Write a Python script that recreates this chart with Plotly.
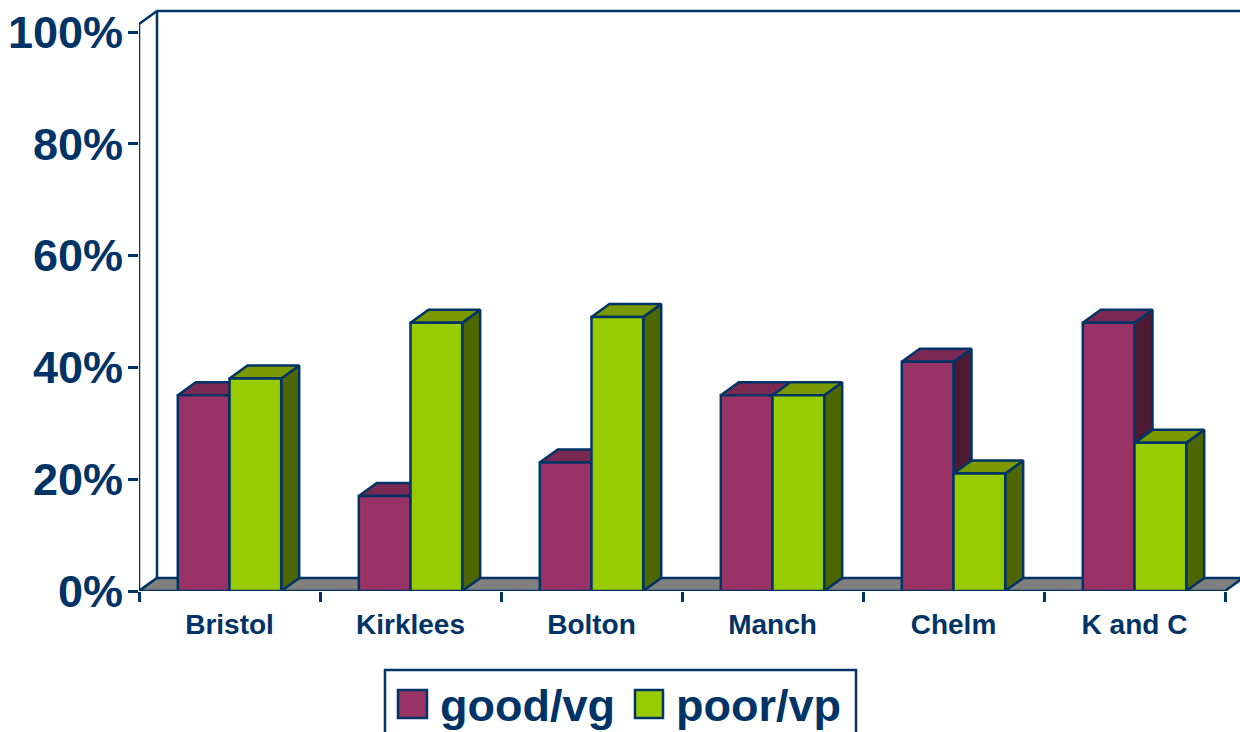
import plotly.graph_objects as go

categories = ["Bristol", "Kirklees", "Bolton", "Manch", "Chelm", "K and C"]
good_vg = [35, 17, 23, 35, 41, 48]
poor_vp = [38, 48, 49, 35, 21, 26.5]
y_ticks = [0, 20, 40, 60, 80, 100]
y_tick_labels = ["0%", "20%", "40%", "60%", "80%", "100%"]

W, H = 1240, 732
NAVY = "#003366"
FONT = "Liberation Sans, Arial, sans-serif"
LW = 2.5
PX_X = 181.0            # pixels per category
PX_Y = 5.59             # pixels per percent
X0_PX, Y0_PX = 139, 591
X_MAX = (W - X0_PX) / PX_X
Y_MAX = Y0_PX / PX_Y
DX = 18 / PX_X          # depth of the 3-D effect
DY = 13 / PX_Y
BAR_W = 51.7 / PX_X
WALL_TOP = (Y0_PX - 24) / PX_Y
centres = [i + 0.5 for i in range(len(categories))]


def px(v):
    return v / W


def py(v):
    return (H - v) / H


def poly(trace_x, trace_y, fill, name):
    return go.Scatter(x=trace_x, y=trace_y, mode="lines", fill="toself", fillcolor=fill,
                      line=dict(color=NAVY, width=LW), name=name, showlegend=False,
                      hoverinfo="skip", cliponaxis=False, xaxis="x", yaxis="y")


def faces(values, left, top_col, side_col, name):
    tx, ty, sx, sy = [], [], [], []
    for c, v in zip(centres, values):
        x0 = c + left
        x1 = x0 + BAR_W
        tx += [x0, x0 + DX, x1 + DX, x1, x0, None]
        ty += [v, v + DY, v + DY, v, v, None]
        sx += [x1, x1 + DX, x1 + DX, x1, x1, None]
        sy += [0, DY, v + DY, v, 0, None]
    return [poly(sx, sy, side_col, name + " side"), poly(tx, ty, top_col, name + " top")]


fig = go.Figure()
n = len(categories)
fig.add_trace(poly([0, DX, DX, 0, 0], [0, DY, WALL_TOP + DY, WALL_TOP, 0], "#FFFFFF", "side wall"))
fig.add_trace(go.Scatter(x=[DX, X_MAX + DX], y=[WALL_TOP + DY, WALL_TOP + DY], mode="lines",
                         line=dict(color=NAVY, width=LW), showlegend=False, hoverinfo="skip",
                         cliponaxis=True, xaxis="x", yaxis="y"))
fig.add_trace(poly([0, DX, n + DX, n, 0], [0, DY, DY, 0, 0], "#808080", "floor"))

for t in faces(good_vg, -BAR_W, "#7A2952", "#4D1A33", "good/vg"):
    fig.add_trace(t)
for t in faces(poor_vp, 0, "#7A9900", "#4D6600", "poor/vp"):
    fig.add_trace(t)

fig.add_trace(go.Bar(x=centres, y=good_vg, width=BAR_W, offset=-BAR_W, name="good/vg",
                     marker=dict(color="#993366", line=dict(color=NAVY, width=LW)),
                     cliponaxis=False, xaxis="x2", yaxis="y2", showlegend=False))
fig.add_trace(go.Bar(x=centres, y=poor_vp, width=BAR_W, offset=0, name="poor/vp",
                     marker=dict(color="#99CC00", line=dict(color=NAVY, width=LW)),
                     cliponaxis=False, xaxis="x2", yaxis="y2", showlegend=False))

x_dom = [X0_PX / W, 1]
y_dom = [(H - Y0_PX) / H, 1]
fig.update_layout(
    width=W, height=H, margin=dict(l=0, r=0, t=0, b=0, pad=0, autoexpand=False),
    paper_bgcolor="white", plot_bgcolor="white", showlegend=False,
    font=dict(family=FONT, color=NAVY),
    xaxis=dict(domain=x_dom, range=[0, X_MAX], tickvals=centres, ticktext=categories,
               ticks="", showgrid=False, zeroline=False, showline=False, automargin=False,
               tickfont=dict(family=FONT, size=28, color=NAVY, weight="bold"), ticklabelstandoff=14),
    yaxis=dict(domain=y_dom, range=[0, Y_MAX], tickvals=y_ticks, ticktext=y_tick_labels,
               ticks="outside", ticklen=10, tickwidth=LW, tickcolor=NAVY, showgrid=False,
               zeroline=False, showline=False, automargin=False, ticklabelstandoff=-4,
               tickfont=dict(family=FONT, size=45, color=NAVY, weight="bold")),
    xaxis2=dict(domain=x_dom, range=[0, X_MAX], overlaying="x", anchor="y2",
                tickvals=list(range(n + 1)), ticktext=[""] * (n + 1), ticks="outside",
                ticklen=10, tickwidth=LW, tickcolor=NAVY, showgrid=False, zeroline=False,
                showline=False, automargin=False),
    yaxis2=dict(domain=y_dom, range=[0, Y_MAX], overlaying="y", anchor="x2", showticklabels=False,
                ticks="", showgrid=False, zeroline=False, showline=False, automargin=False),
)

legend_items = [("good/vg", "#993366", 398, 427, 439), ("poor/vp", "#99CC00", 635, 663, 675)]
fig.add_shape(type="rect", xref="paper", yref="paper", x0=px(385), x1=px(856), y0=py(740), y1=py(670),
              line=dict(color=NAVY, width=LW), fillcolor="white")
for label, col, s0, s1, tx in legend_items:
    fig.add_shape(type="rect", xref="paper", yref="paper", x0=px(s0), x1=px(s1), y0=py(718), y1=py(690),
                  line=dict(color=NAVY, width=LW), fillcolor=col)
    fig.add_annotation(text=label, xref="paper", yref="paper", x=px(tx), y=py(705), xanchor="left",
                       yanchor="middle", showarrow=False,
                       font=dict(family=FONT, size=45, color=NAVY, weight="bold"), borderpad=0)

fig.write_html("out.html", config=dict(displayModeBar=False, responsive=False),
               post_script="document.body.style.margin='0';document.body.style.overflow='hidden';")
